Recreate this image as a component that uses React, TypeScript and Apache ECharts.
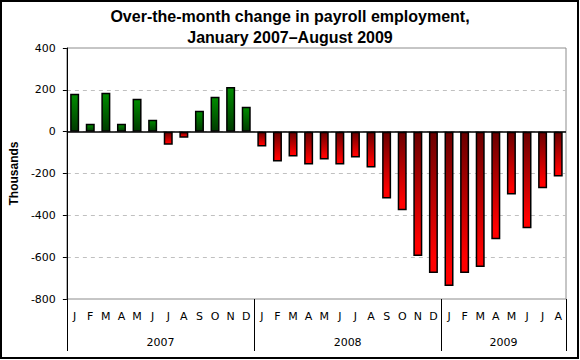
import React, { useEffect, useRef } from "react";
import * as echarts from "echarts";

const monthLabels = [
  "J","F","M","A","M","J","J","A","S","O","N","D",
  "J","F","M","A","M","J","J","A","S","O","N","D",
  "J","F","M","A","M","J","J","A",
];
const years = ["2007", "2008", "2009"];
const monthsPerYear = [12, 12, 8];
const changes = [
  181, 38, 186, 38, 157, 57, -62, -29, 100, 167, 214, 119,
  -71, -143, -119, -157, -133, -157, -124, -171, -319, -376, -595, -676,
  -738, -676, -647, -514, -300, -462, -271, -214,
];
const yTicks = { min: -800, max: 400, interval: 200 };

const yearCenters: Record<number, string> = {};
{
  let start = 0;
  years.forEach((y, i) => {
    yearCenters[start + monthsPerYear[i] / 2] = y;
    start += monthsPerYear[i];
  });
}

const titleFont = "'Liberation Sans', Arial, sans-serif";
const labelFont = "'DejaVu Sans', sans-serif";

function barColor(v: number) {
  const bright = v >= 0 ? "#008c00" : "#ff0000";
  const dark = v >= 0 ? "#003c00" : "#6a0000";
  return new echarts.graphic.LinearGradient(0, 0, 0, 1, v >= 0
    ? [{ offset: 0, color: bright }, { offset: 1, color: dark }]
    : [{ offset: 0, color: dark }, { offset: 0.9, color: bright }, { offset: 1, color: bright }]);
}

export default function App() {
  const ref = useRef<HTMLDivElement>(null);
  useEffect(() => {
    if (!ref.current) return;
    const chart = echarts.init(ref.current, undefined, { renderer: "svg" });
    const total = monthLabels.length;
    chart.setOption({
      animation: false,
      backgroundColor: "#ffffff",
      title: {
        text: "Over-the-month change in payroll employment,\nJanuary 2007\u2013August 2009",
        left: "center",
        top: 6,
        padding: 0,
        textStyle: { fontFamily: titleFont, fontSize: 16, fontWeight: "bold", color: "#000", lineHeight: 21 },
      },
      graphic: [
        {
          type: "rect",
          shape: { x: 1, y: 1, width: 577, height: 357 },
          style: { fill: "none", stroke: "#000", lineWidth: 2 },
          silent: true,
        },
      ],
      grid: {
        left: 64,
        right: 14,
        top: 48,
        bottom: 61,
        show: true,
        borderColor: "#8c8c8c",
        borderWidth: 1,
        backgroundColor: "transparent",
      },
      xAxis: [
        {
          type: "category",
          data: monthLabels,
          position: "bottom",
          axisLine: { show: false, onZero: false },
          axisTick: {
            show: true,
            interval: (i: number) => i % 12 === 0,
            length: 52,
            lineStyle: { color: "#000", width: 1 },
          },
          axisLabel: { interval: 0, margin: 12, fontFamily: labelFont, fontSize: 11, color: "#000" },
          splitLine: { show: false },
        },
        {
          type: "value",
          min: 0,
          max: total,
          interval: 2,
          position: "bottom",
          axisLine: { show: false, onZero: false },
          axisTick: { show: false },
          splitLine: { show: false },
          axisLabel: {
            margin: 38,
            fontFamily: labelFont,
            fontSize: 11,
            color: "#000",
            formatter: (v: number) => yearCenters[v] ?? "",
          },
        },
      ],
      yAxis: {
        type: "value",
        min: yTicks.min,
        max: yTicks.max,
        interval: yTicks.interval,
        name: "Thousands",
        nameLocation: "middle",
        nameGap: 42,
        nameTextStyle: { fontFamily: titleFont, fontSize: 12, fontWeight: "bold", color: "#000" },
        axisLine: { show: true, lineStyle: { color: "#000", width: 1 } },
        axisTick: { show: true, length: 4, lineStyle: { color: "#000" } },
        axisLabel: { margin: 11, fontFamily: labelFont, fontSize: 11, color: "#000" },
        splitLine: {
          show: true,
          showMinLine: false,
          showMaxLine: false,
          lineStyle: { color: "#c0c0c0", type: [4, 4], width: 1 },
        },
      },
      series: [
        {
          type: "bar",
          xAxisIndex: 0,
          data: changes.map((v) => ({
            value: v,
            itemStyle: { color: barColor(v), borderColor: "#000", borderWidth: 1.5 },
          })),
          barWidth: 9,
          markLine: {
            silent: true,
            symbol: ["none", "none"],
            label: { show: false },
            lineStyle: { color: "#000", width: 1.5, type: "solid" },
            data: [{ yAxis: 0 }],
          },
        },
      ],
    });
    return () => chart.dispose();
  }, []);
  return (
    <div
      ref={ref}
      style={{ position: "fixed", left: 0, top: 0, width: 580, height: 360 }}
    />
  );
}
